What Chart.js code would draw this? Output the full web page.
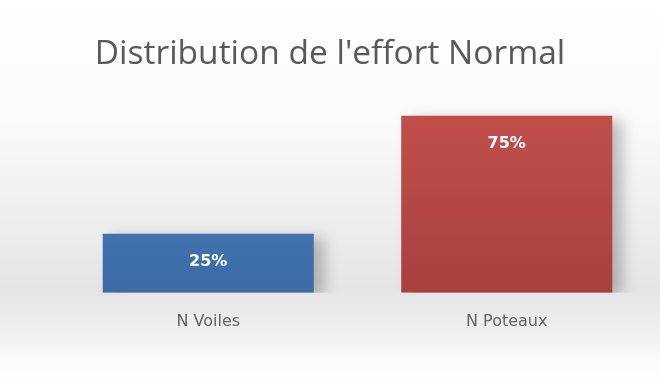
<!DOCTYPE html>
<html>
<head>
<meta charset="utf-8">
<script src="https://cdn.jsdelivr.net/npm/chart.js@4.4.0/dist/chart.umd.min.js"></script>
<style>
  html, body { margin: 0; padding: 0; background: #fff; }
  #wrap { width: 660px; height: 387px; }
</style>
</head>
<body>
<div id="wrap"><canvas id="effort-chart" width="660" height="387"></canvas></div>
<script>
// Data
const chartTitle = "Distribution de l'effort Normal";
const categories = ['N Voiles', 'N Poteaux'];
const shares = [25, 75];
const barTops = ['#4e82c1', '#c2504d'];
const barBottoms = ['#3c6ba6', '#a9403e'];

// panel background: white, greying towards the baseline, fading back out
const panelBackground = {
  id: 'panelBackground',
  beforeDraw(chart) {
    const ctx = chart.ctx;
    const g = ctx.createLinearGradient(0, 0, 0, chart.height);
    g.addColorStop(0, '#ffffff');
    g.addColorStop(0.3, '#fbfbfb');
    g.addColorStop(0.75, '#e5e5e5');
    g.addColorStop(0.86, '#f0f0f0');
    g.addColorStop(0.93, '#fbfbfb');
    g.addColorStop(1, '#ffffff');
    ctx.save();
    ctx.fillStyle = g;
    ctx.fillRect(0, 0, chart.width, chart.height);
    ctx.restore();
  }
};

// title centred on the whole canvas, not on the plot area
const centredTitle = {
  id: 'centredTitle',
  afterDraw(chart) {
    const ctx = chart.ctx;
    ctx.save();
    ctx.font = '33.5px "Open Sans", sans-serif';
    ctx.fillStyle = '#595959';
    ctx.textAlign = 'center';
    ctx.textBaseline = 'middle';
    ctx.fillText(chartTitle, chart.width / 2, 54);
    ctx.restore();
  }
};

// soft drop shadow behind the bars
const barShadow = {
  id: 'barShadow',
  beforeDatasetDraw(chart) {
    const ctx = chart.ctx;
    ctx.save();
    ctx.shadowColor = 'rgba(0,0,0,0.25)';
    ctx.shadowBlur = 14;
    ctx.shadowOffsetX = 10;
    ctx.shadowOffsetY = 4;
  },
  afterDatasetDraw(chart) {
    chart.ctx.restore();
  }
};

// percentage labels near the top of each bar
const valueLabels = {
  id: 'valueLabels',
  afterDatasetsDraw(chart) {
    const ctx = chart.ctx;
    const meta = chart.getDatasetMeta(0);
    ctx.save();
    ctx.font = 'bold 16px "DejaVu Sans", sans-serif';
    ctx.fillStyle = '#ffffff';
    ctx.textAlign = 'center';
    ctx.textBaseline = 'middle';
    meta.data.forEach((bar, i) => {
      ctx.fillText(shares[i] + '%', bar.x, bar.y + 28);
    });
    ctx.restore();
  }
};

function barFill(context) {
  const chart = context.chart;
  const area = chart.chartArea;
  if (!area) return barTops[context.dataIndex];
  const bar = chart.getDatasetMeta(0).data[context.dataIndex];
  const top = bar && isFinite(bar.y) ? bar.y : area.top;
  const g = chart.ctx.createLinearGradient(0, top, 0, area.bottom);
  g.addColorStop(0, barTops[context.dataIndex]);
  g.addColorStop(1, barBottoms[context.dataIndex]);
  return g;
}

var effortCtx = document.getElementById('effort-chart').getContext('2d');
var effortChart = new Chart(effortCtx, {
  type: 'bar',
  data: {
    labels: categories,
    datasets: [{
      label: chartTitle,
      data: shares,
      backgroundColor: barFill,
      borderWidth: 0,
      categoryPercentage: 0.707,
      barPercentage: 1,
    }]
  },
  options: {
    responsive: false,
    animation: false,
    layout: {
      padding: { left: 59, right: 4, top: 104, bottom: 45 }
    },
    scales: {
      x: {
        grid: { display: false },
        border: { display: false },
        ticks: {
          color: '#636363',
          padding: 11,
          font: { family: '"DejaVu Sans", sans-serif', size: 16 }
        }
      },
      y: {
        display: false,
        min: 0,
        max: 80,
      }
    },
    plugins: {
      legend: { display: false },
      tooltip: { enabled: false },
      title: { display: false }
    }
  },
  plugins: [panelBackground, barShadow, valueLabels, centredTitle]
});
</script>
</body>
</html>
